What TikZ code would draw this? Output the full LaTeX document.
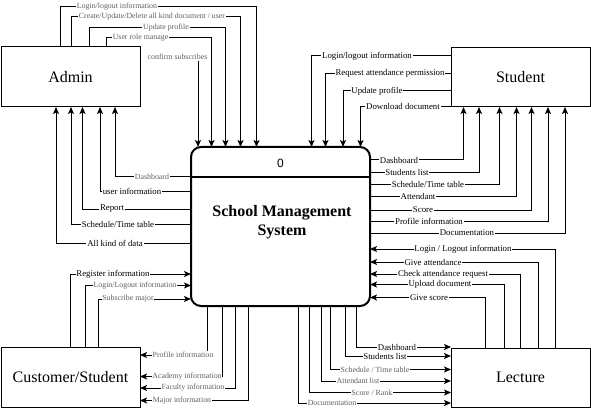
\documentclass[tikz,border=0pt]{standalone}
\usepackage{fontspec}
\setmainfont{Liberation Serif}
\newfontfamily\sansf{Liberation Sans}
\usetikzlibrary{arrows.meta}
\begin{document}
\begin{tikzpicture}[x=0.75pt,y=-0.75pt,
  box/.style={draw, line width=0.75pt, inner sep=0pt, outer sep=0pt, font=\fontsize{12}{14}\selectfont},
  sysbox/.style={draw, line width=1.5pt, rounded corners=7.5pt, inner sep=0pt, outer sep=0pt},
  arr/.style={line width=0.75pt, -{Stealth[length=5.25pt, width=4.5pt, inset=1.2pt]}},
  lbl/.style={fill=white, inner sep=0.6pt, text=black, font=\fontsize{6.6}{7}\selectfont},
  lblg/.style={fill=white, inner sep=0.6pt, text=black!62, font=\fontsize{5.9}{6.5}\selectfont}]
\useasboundingbox (0,0) rectangle (591,413);

% boxes
\node[box, minimum width=104.25pt, minimum height=45pt] (admin) at (70.5,77) {Admin};
\node[box, minimum width=104.25pt, minimum height=44.25pt] (student) at (520.5,77.5) {Student};
\node[box, minimum width=104.25pt, minimum height=45pt] (cust) at (70.5,377) {Customer/Student};
\node[box, minimum width=104.25pt, minimum height=44.25pt] (lect) at (520.5,377.5) {Lecture};
\node[sysbox, minimum width=134.25pt, minimum height=119.25pt] (sys) at (280.5,226.5) {};
\draw[line width=1.5pt] (sys.west |- 0,177.5) -- (sys.east |- 0,177.5);
\node[font=\sansf\fontsize{9}{10}\selectfont] (num) at (280.5,163) {0};
\node[font=\bfseries\fontsize{12}{14.25}\selectfont, align=center] (title) at (282,222) {School Management\\System};

% Admin -> system (top)
\draw[arr] (admin.north -| 60,0) |- (256.5,7) -- (sys.north -| 256.5,0);
\draw[arr] (admin.north -| 71,0) |- (240.5,17) -- (sys.north -| 240.5,0);
\draw[arr] (admin.north -| 89.5,0) |- (225.5,28) -- (sys.north -| 225.5,0);
\draw[arr] (admin.north -| 106,0) |- (211.5,38) -- (sys.north -| 211.5,0);
\node[lblg] (a1) at (117,7) {Login/logout information};
\node[lblg] (a2) at (152,17) {Create/Update/Delete all kind document / user};
\node[lblg] (a3) at (166,28) {Update profile};
\node[lblg] (a4) at (140.5,38) {User role manage};
\node[lblg] (a5) at (177.5,57) {confirm subscribes};
\draw[arr] (a5.south -| 198,0) -- (sys.north -| 198,0);

% system -> Admin
\draw[arr] (sys.west |- 0,177) -| (admin.south -| 115,0);
\draw[arr] (sys.west |- 0,191) -| (admin.south -| 100,0);
\draw[arr] (sys.west |- 0,209) -| (admin.south -| 82.5,0);
\draw[arr] (sys.west |- 0,224) -| (admin.south -| 71,0);
\draw[arr] (sys.west |- 0,243) -| (admin.south -| 56,0);
\node[lblg] (b1) at (152,177) {Dashboard};
\node[lbl] (b2) at (132,191) {user information};
\node[lbl] (b3) at (112,209) {Report};
\node[lbl] (b4) at (118,224) {Schedule/Time table};
\node[lbl] (b5) at (115,243) {All kind of data};

% Student -> system
\draw[arr] (student.west |- 0,56) -| (sys.north -| 311.5,0);
\draw[arr] (student.west |- 0,73.5) -| (sys.north -| 325.5,0);
\draw[arr] (student.west |- 0,91) -| (sys.north -| 343,0);
\draw[arr] (student.west |- 0,106.5) -| (sys.north -| 360.5,0);
\node[lbl] (c1) at (367,56) {Login/logout information};
\node[lbl] (c2) at (390,73.5) {Request attendance permission};
\node[lbl] (c3) at (377,91) {Update profile};
\node[lbl] (c4) at (403,106.5) {Download document};

% system -> Student
\draw[arr] (sys.east |- 0,160) -| (student.south -| 463.5,0);
\draw[arr] (sys.east |- 0,172.5) -| (student.south -| 479,0);
\draw[arr] (sys.east |- 0,184) -| (student.south -| 499.5,0);
\draw[arr] (sys.east |- 0,196.5) -| (student.south -| 516.5,0);
\draw[arr] (sys.east |- 0,210) -| (student.south -| 531.5,0);
\draw[arr] (sys.east |- 0,221) -| (student.south -| 548,0);
\draw[arr] (sys.east |- 0,233.5) -| (student.south -| 565,0);
\node[lbl] (d1) at (399,160) {Dashboard};
\node[lbl] (d2) at (407,172.5) {Students list};
\node[lbl] (d3) at (428,184) {Schedule/Time table};
\node[lbl] (d4) at (418,196.5) {Attendant};
\node[lbl] (d5) at (423,210) {Score};
\node[lbl] (d6) at (429,221) {Profile information};
\node[lbl] (d7) at (467,233) {Documentation};

% Lecture -> system
\draw[arr] (lect.north -| 555,0) |- (sys.east |- 0,249);
\draw[arr] (lect.north -| 538,0) |- (sys.east |- 0,262);
\draw[arr] (lect.north -| 520.5,0) |- (sys.east |- 0,274);
\draw[arr] (lect.north -| 504,0) |- (sys.east |- 0,284.5);
\draw[arr] (lect.north -| 485.5,0) |- (sys.east |- 0,297.5);
\node[lbl] (e1) at (463,249) {Login / Logout information};
\node[lbl] (e2) at (433,262) {Give attendance};
\node[lbl] (e3) at (443,274) {Check attendance request};
\node[lbl] (e4) at (440,284.5) {Upload document};
\node[lbl] (e5) at (429,297.5) {Give score};

% system -> Customer
\draw[arr] (sys.south -| 207,0) |- (cust.east |- 0,355);
\draw[arr] (sys.south -| 222,0) |- (cust.east |- 0,376.5);
\draw[arr] (sys.south -| 235.5,0) |- (cust.east |- 0,388);
\draw[arr] (sys.south -| 248,0) |- (cust.east |- 0,400.5);
\node[lblg] (f1) at (183,355) {Profile information};
\node[lblg] (f2) at (187,376.5) {Academy information};
\node[lblg] (f3) at (193,388) {Faculty information};
\node[lblg] (f4) at (182,400.5) {Major information};

% Customer -> system
\draw[arr] (cust.north -| 70.5,0) |- (sys.west |- 0,274);
\draw[arr] (cust.north -| 85.5,0) |- (sys.west |- 0,285.5);
\draw[arr] (cust.north -| 98.5,0) |- (sys.west |- 0,299);
\node[lbl] (g1) at (113,274) {Register information};
\node[lblg] (g2) at (135,285.5) {Login/Logout information};
\node[lblg] (g3) at (128,299) {Subscribe major};

% system -> Lecture
\draw[arr] (sys.south -| 356.5,0) |- (lect.west |- 0,347);
\draw[arr] (sys.south -| 345,0) |- (lect.west |- 0,356);
\draw[arr] (sys.south -| 330.5,0) |- (lect.west |- 0,369.5);
\draw[arr] (sys.south -| 321.5,0) |- (lect.west |- 0,381);
\draw[arr] (sys.south -| 309,0) |- (lect.west |- 0,392.5);
\draw[arr] (sys.south -| 298.5,0) |- (lect.west |- 0,403);
\node[lbl] (h1) at (397,347) {Dashboard};
\node[lbl] (h2) at (385,356) {Students list};
\node[lblg] (h3) at (375,369.5) {Schedule / Time table};
\node[lblg] (h4) at (358,381) {Attendant list};
\node[lblg] (h5) at (372,392.5) {Score / Rank};
\node[lblg] (h6) at (332,403) {Documentation};
\end{tikzpicture}
\end{document}
